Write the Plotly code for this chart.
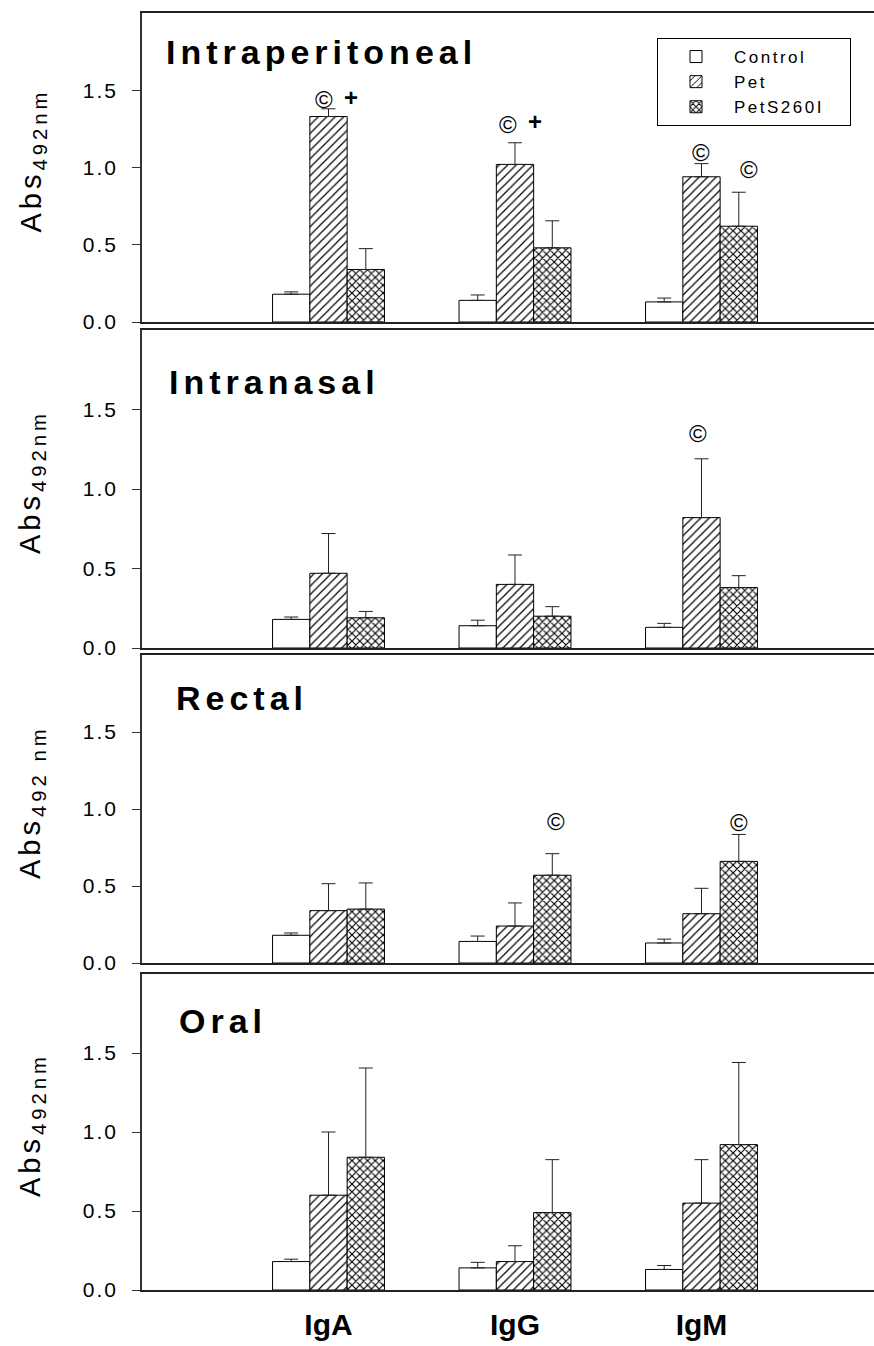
import plotly.graph_objects as go

# ---------------- data ----------------
categories = ["IgA", "IgG", "IgM"]
series_names = ["Control", "Pet", "PetS260I"]
routes = ["Intraperitoneal", "Intranasal", "Rectal", "Oral"]
ylabel_main = "Abs"
ylabel_subs = ["492nm", "492nm", "492 nm", "492nm"]

# Intraperitoneal
ip_control = [0.18, 0.14, 0.13]
ip_control_err = [0.015, 0.035, 0.025]
ip_pet = [1.33, 1.02, 0.94]
ip_pet_err = [0.05, 0.14, 0.085]
ip_pets = [0.34, 0.48, 0.62]
ip_pets_err = [0.135, 0.175, 0.22]

# Intranasal
in_control = [0.18, 0.14, 0.13]
in_control_err = [0.015, 0.035, 0.025]
in_pet = [0.47, 0.40, 0.82]
in_pet_err = [0.25, 0.185, 0.37]
in_pets = [0.19, 0.20, 0.38]
in_pets_err = [0.04, 0.06, 0.075]

# Rectal
re_control = [0.18, 0.14, 0.13]
re_control_err = [0.015, 0.035, 0.025]
re_pet = [0.34, 0.24, 0.32]
re_pet_err = [0.175, 0.15, 0.165]
re_pets = [0.35, 0.57, 0.66]
re_pets_err = [0.17, 0.14, 0.175]

# Oral
or_control = [0.18, 0.14, 0.13]
or_control_err = [0.015, 0.035, 0.025]
or_pet = [0.60, 0.18, 0.55]
or_pet_err = [0.40, 0.10, 0.275]
or_pets = [0.84, 0.49, 0.92]
or_pets_err = [0.565, 0.335, 0.52]

panel_values = [
    [(ip_control, ip_control_err), (ip_pet, ip_pet_err), (ip_pets, ip_pets_err)],
    [(in_control, in_control_err), (in_pet, in_pet_err), (in_pets, in_pets_err)],
    [(re_control, re_control_err), (re_pet, re_pet_err), (re_pets, re_pets_err)],
    [(or_control, or_control_err), (or_pet, or_pet_err), (or_pets, or_pets_err)],
]

# significance marks: (panel, category, series, text, y value)
sig_marks = [
    (0, 0, 1, "©", 1.437), (0, 0, 1, "+", 1.45),
    (0, 1, 1, "©", 1.281), (0, 1, 1, "+", 1.295),
    (0, 2, 1, "©", 1.094),
    (0, 2, 2, "©", 0.984),
    (1, 2, 1, "©", 1.352),
    (2, 1, 2, "©", 0.917),
    (2, 2, 2, "©", 0.913),
]
sig_xshift = [-5, 22, -7, 20, 0, 10, -3, 4, 0]

yticks = [0.0, 0.5, 1.0, 1.5]

# ---------------- styling / layout ----------------
W, H = 874, 1346
ML = 142
panel_px = [(13, 322), (330, 648), (655, 963), (974, 1290)]

def fy(py):
    return 1 - py / H

def fx(px):
    return (px - ML) / (W - ML)

patterns = [
    dict(shape="", fgcolor="black", bgcolor="white"),
    dict(shape="/", size=6, solidity=0.2, fgcolor="black", bgcolor="white"),
    dict(shape="x", size=5.5, solidity=0.38, fgcolor="black", bgcolor="white"),
]

def spaced(t, s):
    return '<span style="letter-spacing:%spx">%s</span>' % (s, t)

legend_pad = ["&nbsp;" * 8, "&nbsp;" * 8, "&nbsp;"]

fig = go.Figure()
xpos = list(range(len(categories)))
for p in range(4):
    xa = "x" if p == 0 else "x%d" % (p + 1)
    ya = "y" if p == 0 else "y%d" % (p + 1)
    for s in range(3):
        vals, errs = panel_values[p][s]
        fig.add_trace(go.Bar(
            x=xpos, y=vals, name=spaced(series_names[s], 2.5) + legend_pad[s],
            xaxis=xa, yaxis=ya, offsetgroup=str(s),
            legendgroup=series_names[s], showlegend=(p == 0),
            marker=dict(color="white", line=dict(color="black", width=1),
                        pattern=patterns[s]),
            error_y=dict(type="data", array=errs, arrayminus=[0] * len(errs),
                         symmetric=False, color="#222", thickness=1, width=7),
        ))

layout = dict(
    width=W, height=H, template="none",
    margin=dict(l=ML, r=0, t=0, b=0),
    paper_bgcolor="white", plot_bgcolor="white",
    barmode="group", bargap=0.4, bargroupgap=0,
    font=dict(family="Liberation Sans, Arial, sans-serif", color="black"),
    legend=dict(x=fx(657), y=fy(38), xanchor="left", yanchor="top",
                bordercolor="black", borderwidth=1, bgcolor="white",
                font=dict(size=17, family="Liberation Sans, Arial"),
                tracegroupgap=0, itemwidth=66),
)

annotations = []
for p in range(4):
    top, bot = panel_px[p]
    xk = "xaxis" if p == 0 else "xaxis%d" % (p + 1)
    yk = "yaxis" if p == 0 else "yaxis%d" % (p + 1)
    ya_name = "y" if p == 0 else "y%d" % (p + 1)
    layout[xk] = dict(
        domain=[0, 1], range=[-1, 2.925], anchor=ya_name,
        showline=True, linecolor="#222", linewidth=1.5, mirror=True,
        showgrid=False, zeroline=False, ticks="",
        tickvals=xpos, ticktext=categories,
        showticklabels=(p == 3),
        tickfont=dict(size=30, family="Liberation Sans, Arial", weight="bold"),
        ticklabelstandoff=7,
    )
    layout[yk] = dict(
        domain=[fy(bot), fy(top)], range=[0, 2.0],
        anchor="x" if p == 0 else "x%d" % (p + 1),
        showline=True, linecolor="#333", linewidth=1.5, mirror=False,
        showgrid=False, zeroline=False,
        ticks="outside", ticklen=8, tickwidth=1, tickcolor="#333",
        tickvals=yticks, ticktext=[spaced("%.1f" % v, 2) for v in yticks],
        tickfont=dict(size=21, family="Liberation Sans, Arial"),
        ticklabelstandoff=10,
    )
    # panel title
    title_off = [39, 52, 43, 47][p]
    annotations.append(dict(
        xref="paper", yref="paper", x=fx([164, 167, 174, 177][p]), y=fy(top + title_off),
        xanchor="left", yanchor="middle", showarrow=False,
        text="<b>%s</b>" % spaced(routes[p], 5),
        font=dict(size=34, family="Liberation Sans, Arial"),
    ))
    # y axis label
    annotations.append(dict(
        xref="paper", yref="paper", x=fx(32), y=fy((top + bot) / 2 - 7),
        xanchor="center", yanchor="middle", showarrow=False, textangle=-90,
        text=spaced(ylabel_main, 4) + "<sub>" + spaced(ylabel_subs[p], 4) + "</sub>",
        font=dict(size=29, family="Liberation Sans, Arial"),
    ))

offsets = [-0.2, 0.0, 0.2]
for (p, c, s, txt, yv), xs in zip(sig_marks, sig_xshift):
    xr = "x" if p == 0 else "x%d" % (p + 1)
    yr = "y" if p == 0 else "y%d" % (p + 1)
    annotations.append(dict(
        xref=xr, yref=yr, x=xpos[c] + offsets[s], y=yv, xshift=xs,
        xanchor="center", yanchor="middle", showarrow=False,
        text="<b>+</b>" if txt == "+" else txt,
        font=dict(size=24, family="Liberation Sans, Arial"),
    ))

layout["annotations"] = annotations
fig.update_layout(**layout)
fig.write_html(
    "out.html",
    config={"displayModeBar": False},
    post_script="document.body.style.margin='0';document.body.style.overflow='hidden';",
)
